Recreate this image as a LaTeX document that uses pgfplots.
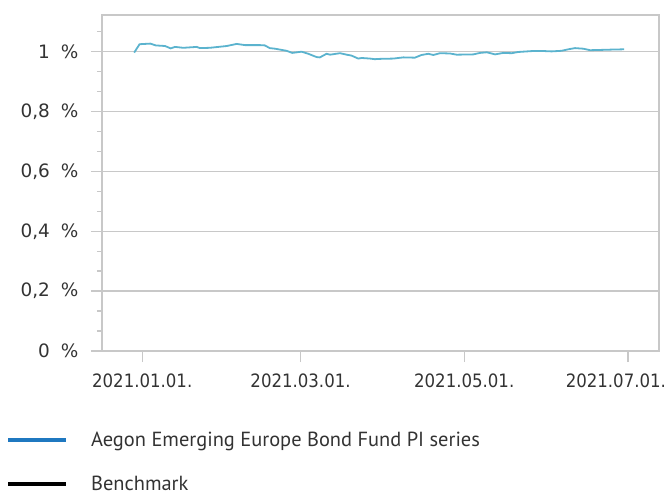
\documentclass[border=0pt]{standalone}
\usepackage{pgfplots}
\pgfplotsset{compat=1.18}
\usepackage{fontspec}
\setmainfont{DejaVu Sans}
\newfontfamily\tickfont{DejaVu Sans Condensed}
\newfontfamily\legfont{PT Sans}
\definecolor{axisgray}{HTML}{C8C8C8}
\definecolor{fundline}{HTML}{5BB3CE}
\definecolor{fundleg}{HTML}{1F78C0}
\definecolor{txt}{HTML}{333333}

% days counted from 2021-01-01, value in %
\pgfplotstableread{
d v
-3 0.997
-1 1.025
3 1.027
5 1.021
8.5 1.019
10.6 1.011
12.2 1.016
15.3 1.013
20.3 1.016
21.5 1.012
25.2 1.013
31.5 1.019
35.2 1.026
38.3 1.022
43.9 1.022
45.7 1.021
47.5 1.012
49.5 1.010
53.8 1.003
55.9 0.996
59.4 1.000
61.9 0.993
65.0 0.982
66.2 0.981
68.7 0.993
70.0 0.990
73.7 0.995
76.2 0.990
78.0 0.987
80.5 0.977
81.8 0.979
84.9 0.977
86.7 0.975
88.6 0.976
93.6 0.977
97.3 0.981
101.6 0.980
104.1 0.989
106.6 0.993
108.5 0.989
111.0 0.995
114.7 0.994
117.2 0.990
123.4 0.991
125.9 0.996
128.4 0.998
131.5 0.991
134.6 0.996
137.7 0.995
140.1 0.999
145.1 1.002
150.1 1.002
152.6 1.001
156.3 1.003
158.8 1.008
161.3 1.012
164.4 1.010
166.9 1.005
171.2 1.006
174.9 1.007
179.6 1.008
}\fund

\newcommand{\pc}[1]{#1\hspace{11bp}\%}

\begin{document}
\begin{tikzpicture}
\useasboundingbox (-102bp,-140bp) rectangle (564bp,351bp);
\begin{axis}[
    scale only axis,
    width=557bp, height=336bp,
    xmin=-15, xmax=192.6,
    ymin=0, ymax=1.1226,
    axis line style={axisgray, line width=1.4bp},
    xtick={0,59,120,181},
    xticklabels={2021.01.01.,2021.03.01.,2021.05.01.,{\hspace*{-24bp}2021.07.01.}},
    ytick={0,0.2,0.4,0.6,0.8,1},
    yticklabels={{\pc{0}},{\pc{0,2}},{\pc{0,4}},{\pc{0,6}},{\pc{0,8}},{\pc{1}}},
    minor ytick={0.0667,0.1333,0.2667,0.3333,0.4667,0.5333,0.6667,0.7333,0.8667,0.9333,1.0667},
    tick align=outside,
    tick style={axisgray, line width=1.4bp},
    major tick length=11bp,
    minor tick length=5bp,
    xtick pos=bottom, ytick pos=left,
    ymajorgrids,
    grid style={axisgray, line width=1.4bp},
    xticklabel style={font=\tickfont\fontsize{18.5}{22}\selectfont, text=txt, yshift=-8bp},
    yticklabel style={font=\fontsize{18.5}{22}\selectfont, text=txt, xshift=-9bp},
    legend style={at={(axis description cs:-0.1724,-0.235)}, anchor=north west,
        draw=none, fill=none, inner sep=0pt,
        font=\legfont\fontsize{20.5}{24}\selectfont, text=txt,
        row sep=24bp, cells={anchor=west},
        /tikz/every odd column/.append style={column sep=21bp}},
    legend image code/.code={\draw[#1] (0bp,0bp) -- (58bp,0bp);},
]
\addplot[fundline, line width=1.8bp, forget plot] table[x=d, y=v] {\fund};
\addlegendimage{fundleg, line width=4bp}
\addlegendentry{Aegon Emerging Europe Bond Fund PI series}
\addlegendimage{black, line width=4bp}
\addlegendentry{Benchmark}
\end{axis}
\end{tikzpicture}
\end{document}
